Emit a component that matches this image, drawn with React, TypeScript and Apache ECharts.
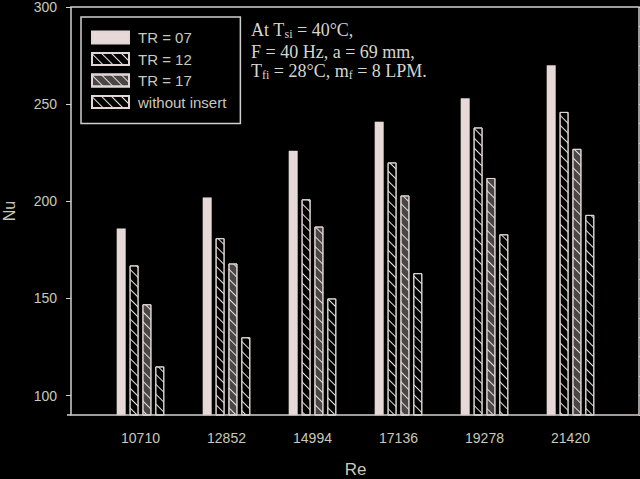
import React, { useEffect, useRef } from "react";
import * as echarts from "echarts";

const categories = ["10710", "12852", "14994", "17136", "19278", "21420"];
const tr07 = [186, 202, 226, 241, 253, 270];
const tr12 = [167, 181, 201, 220, 238, 246];
const tr17 = [147, 168, 187, 203, 212, 227];
const withoutInsert = [115, 130, 150, 163, 183, 193];
const seriesNames = ["TR = 07", "TR = 12", "TR = 17", "without insert"];
const yMajorTicks = [100, 150, 200, 250, 300];
const yMinorTicks = [90, 100, 110, 120, 130, 140, 150, 160, 170, 180, 190, 200, 210, 220, 230, 240, 250, 260, 270, 280, 290, 300];

const SANS = "'Liberation Sans', Arial, sans-serif";
const SERIF = "'Liberation Serif', 'Times New Roman', serif";
const BORDER = "#e2d6d6";
const TEXT = "#c9c9bb";
const LINE = "#d4d0d0";

const hatch = (color: string) => ({
  symbol: "rect",
  symbolSize: 1,
  color,
  dashArrayX: [1, 0],
  dashArrayY: [1, 6],
  rotation: Math.PI / 4,
});

export default function App() {
  const ref = useRef<HTMLDivElement>(null);
  useEffect(() => {
    if (!ref.current) return;
    const chart = echarts.init(ref.current, undefined, { renderer: "svg" });
    const barCommon = {
      type: "bar",
      xAxisIndex: 0,
      yAxisIndex: 0,
      barWidth: 9,
      barGap: "43%",
    };
    const subStyle = { fontSize: 12, lineHeight: 12, verticalAlign: "bottom", fontFamily: SERIF, fill: "#d6d6d0" };
    chart.setOption({
      animation: false,
      backgroundColor: "#000000",
      grid: [
        { left: 97.5, right: 26.5, top: 7, bottom: 64, show: false, outerBoundsMode: "none", containLabel: false },
        { left: 71, right: 1, top: 7, bottom: 64, show: false, outerBoundsMode: "none", containLabel: false },
      ],
      xAxis: [
        {
          type: "category",
          gridIndex: 0,
          data: categories,
          axisLine: { show: false },
          axisTick: { show: false },
          axisLabel: { color: TEXT, fontFamily: SANS, fontSize: 14, margin: 16 },
          name: "Re",
          nameLocation: "middle",
          nameGap: 46,
          nameTextStyle: { color: TEXT, fontFamily: SANS, fontSize: 17 },
        },
        { type: "value", gridIndex: 1, min: 0, max: 1, show: false },
      ],
      yAxis: [
        { type: "value", gridIndex: 0, min: 90, max: 300, show: false },
        {
          type: "value",
          gridIndex: 1,
          min: 90,
          max: 300,
          axisLine: { show: false },
          axisTick: { show: true, customValues: yMajorTicks, length: 5, lineStyle: { color: LINE } },
          axisLabel: { show: true, customValues: yMajorTicks, color: TEXT, fontFamily: SANS, fontSize: 14, margin: 14 },
          splitLine: { show: false },
          name: "Nu",
          nameLocation: "middle",
          nameGap: 54,
          nameRotate: 90,
          nameTextStyle: { color: TEXT, fontFamily: SANS, fontSize: 16 },
        },
        {
          type: "value",
          gridIndex: 1,
          min: 90,
          max: 300,
          axisLine: { show: false },
          axisTick: { show: true, customValues: yMinorTicks, length: 3, lineStyle: { color: LINE } },
          axisLabel: { show: false },
          splitLine: { show: false },
        },
      ],
      legend: {
        orient: "vertical",
        left: 81,
        top: 17,
        padding: [13, 14, 14, 10],
        itemWidth: 37,
        itemHeight: 12,
        itemGap: 6.5,
        borderColor: "#cfcfcf",
        borderWidth: 1.5,
        icon: "rect",
        data: seriesNames,
        textStyle: { color: TEXT, fontFamily: SANS, fontSize: 15, lineHeight: 15, padding: [0, 0, 0, 4] },
      },
      graphic: [
        {
          type: "rect",
          silent: true,
          z: 100,
          shape: { x: 71, y: 7, width: 568, height: 408 },
          style: { fill: "none", stroke: LINE, lineWidth: 1.5 },
        },
        {
          type: "line",
          silent: true,
          z: 100,
          shape: { x1: 67, y1: 415, x2: 71, y2: 415 },
          style: { stroke: LINE, lineWidth: 1.5 },
        },
        {
          type: "text",
          left: 251,
          top: 20,
          style: {
            text: "At T{sub|si} = 40°C,",
            fill: "#d6d6d0",
            font: `18px ${SERIF}`,
            lineHeight: 20,
            rich: { sub: subStyle },
          },
        },
        {
          type: "text",
          left: 251,
          top: 42,
          style: {
            text: "F = 40 Hz, a = 69 mm,",
            fill: "#d6d6d0",
            font: `18px ${SERIF}`,
            lineHeight: 20,
          },
        },
        {
          type: "text",
          left: 251,
          top: 61,
          style: {
            text: "T{sub|fi} = 28°C, m{sub|f} = 8 LPM.",
            fill: "#d6d6d0",
            font: `18px ${SERIF}`,
            lineHeight: 20,
            rich: { sub: subStyle },
          },
        },
      ],
      series: [
        {
          ...barCommon,
          name: seriesNames[0],
          data: tr07,
          itemStyle: { color: "#e8d9d9", borderColor: BORDER, borderWidth: 0.5 },
        },
        {
          ...barCommon,
          name: seriesNames[1],
          data: tr12,
          itemStyle: { color: "#000000", borderColor: BORDER, borderWidth: 1, decal: hatch("#e6dede") },
        },
        {
          ...barCommon,
          name: seriesNames[2],
          data: tr17,
          itemStyle: { color: "#4a4646", borderColor: BORDER, borderWidth: 1, decal: hatch("#e6dede") },
        },
        {
          ...barCommon,
          name: seriesNames[3],
          data: withoutInsert,
          itemStyle: { color: "#000000", borderColor: BORDER, borderWidth: 1, decal: hatch("#e6dede") },
        },
      ],
    });
    return () => chart.dispose();
  }, []);
  return (
    <div
      ref={ref}
      style={{ position: "fixed", left: 0, top: 0, width: 640, height: 479, background: "#000" }}
    />
  );
}
